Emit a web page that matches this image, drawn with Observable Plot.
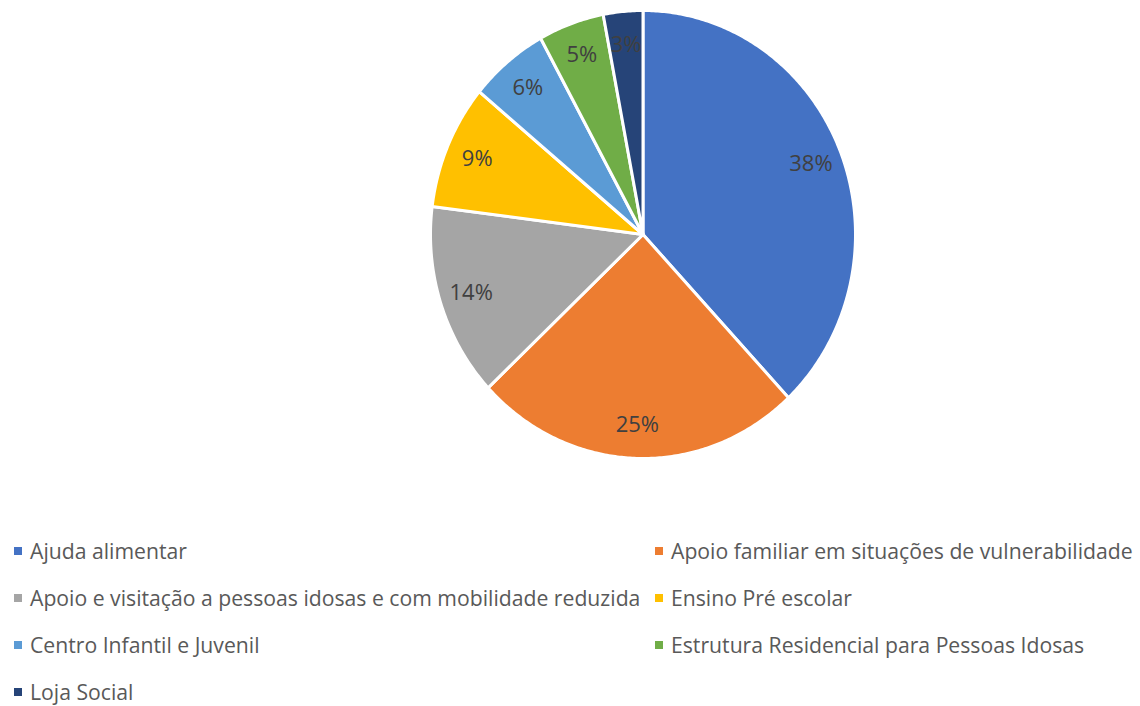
<!DOCTYPE html>
<html>
<head>
<meta charset="utf-8">
<script src="https://cdn.jsdelivr.net/npm/d3@7"></script>
<script src="https://cdn.jsdelivr.net/npm/@observablehq/plot@0.6"></script>
<style>
  html, body { margin: 0; padding: 0; background: #fff; }
  #wrap { position: relative; width: 1140px; height: 706px; overflow: hidden; }
  #legend { position: absolute; left: 0; top: 527px; width: 1140px;
    display: grid; grid-template-columns: 641px 499px; grid-auto-rows: 47px;
    font-family: "Open Sans", sans-serif; font-size: 21.2px; line-height: 1; color: #595959; }
  .item { display: flex; align-items: center; white-space: nowrap; }
  .item .sw { width: 8px; height: 8px; margin-right: 8px; flex: none; }
  .col0 { padding-left: 14px; }
  .col1 { padding-left: 14px; }
</style>
</head>
<body>
<div id="wrap">
  <div id="chart"></div>
  <div id="legend"></div>
</div>
<script>
const categories = [
  "Ajuda alimentar",
  "Apoio familiar em situações de vulnerabilidade",
  "Apoio e visitação a pessoas idosas e com mobilidade reduzida",
  "Ensino Pré escolar",
  "Centro Infantil e Juvenil",
  "Estrutura Residencial para Pessoas Idosas",
  "Loja Social"
];
const values = [38, 25, 14, 9, 6, 5, 3];
const labels = ["38%", "25%", "14%", "9%", "6%", "5%", "3%"];
const colors = ["#4472C4", "#ED7D31", "#A5A5A5", "#FFC000", "#5B9BD5", "#70AD47", "#264478"];

const total = d3.sum(values);
const slices = [];
const labelPts = [];
let acc = 0;
values.forEach((v, i) => {
  const a0 = acc / total * 2 * Math.PI;
  acc += v;
  const a1 = acc / total * 2 * Math.PI;
  const n = Math.max(4, Math.ceil((a1 - a0) / 0.01));
  slices.push({name: categories[i], x: 0, y: 0});
  for (let k = 0; k <= n; k++) {
    const a = a0 + (a1 - a0) * k / n;
    slices.push({name: categories[i], x: Math.sin(a), y: Math.cos(a)});
  }
  slices.push({name: categories[i], x: 0, y: 0});
  const am = (a0 + a1) / 2;
  labelPts.push({name: categories[i], label: labels[i], x: 0.85 * Math.sin(am), y: 0.85 * Math.cos(am)});
});

const plot = Plot.plot({
  width: 1140,
  height: 527,
  x: {domain: [-1, 1], range: [430, 855], axis: null},
  y: {domain: [-1, 1], range: [458, 10], axis: null},
  color: {domain: categories, range: colors},
  style: {background: "white"},
  marks: [
    Plot.line(slices, {x: "x", y: "y", z: "name", fill: "name", stroke: "white", strokeWidth: 3, strokeLinejoin: "round", curve: "linear"}),
    Plot.text(labelPts, {x: "x", y: "y", text: "label", fill: "#404040", fontSize: 22, fontFamily: "Open Sans, sans-serif"})
  ]
});
document.getElementById("chart").appendChild(plot);

const legend = document.getElementById("legend");
categories.forEach((c, i) => {
  const div = document.createElement("div");
  div.className = "item col" + (i % 2);
  const sw = document.createElement("span");
  sw.className = "sw";
  sw.style.background = colors[i];
  const tx = document.createElement("span");
  tx.textContent = c;
  div.appendChild(sw);
  div.appendChild(tx);
  legend.appendChild(div);
});
</script>
</body>
</html>
